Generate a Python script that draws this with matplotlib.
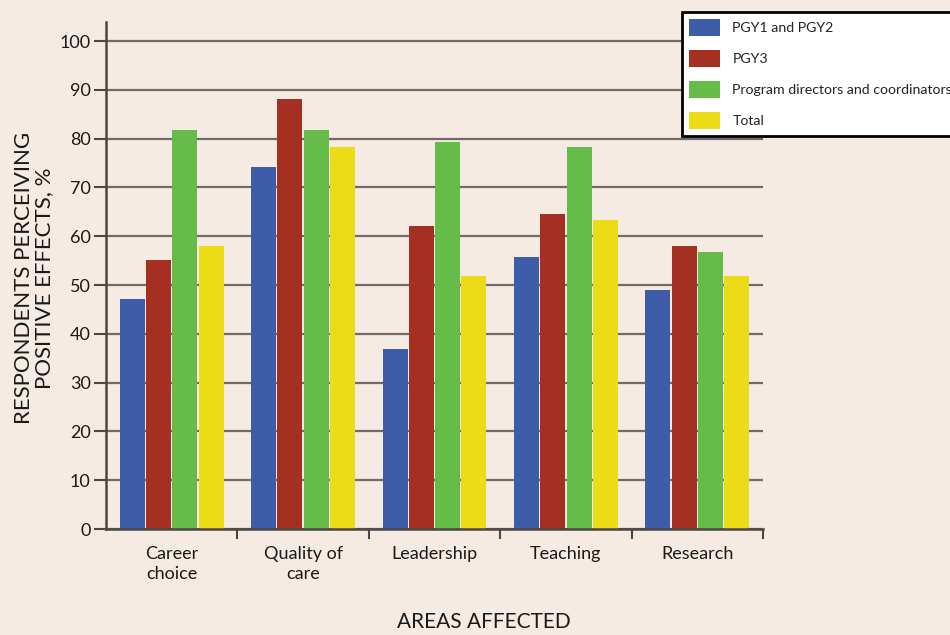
import numpy as np
import matplotlib
matplotlib.use('Agg')
import matplotlib.pyplot as plt
from matplotlib.patches import Rectangle
from matplotlib.legend_handler import HandlerPatch

# Data
areas = ['Career\nchoice', 'Quality of\ncare', 'Leadership', 'Teaching', 'Research']
series_names = ['PGY1 and PGY2', 'PGY3', 'Program directors and coordinators', 'Total']
pgy12 = [47.1, 74.2, 36.9, 55.7, 49.0]
pgy3 = [55.1, 88.1, 62.1, 64.5, 58.0]
directors = [81.8, 81.8, 79.3, 78.3, 56.8]
total = [58.0, 78.3, 51.8, 63.3, 51.8]
yticks = [0, 10, 20, 30, 40, 50, 60, 70, 80, 90, 100]

colors = ['#3d5da8', '#a52f20', '#65bc48', '#ebdc17']
bg = '#f5ebe3'
grid_col = '#6f6b68'

plt.rcParams['font.family'] = ['Lato', 'DejaVu Sans']


# square legend swatch pushed to the right end of the handle box
def square_patch(legend, orig_handle, xdescent, ydescent, width, height, fontsize):
    h = height + ydescent
    return Rectangle((-xdescent + width - h, -ydescent), h, h)


fig = plt.figure(figsize=(9.5, 6.35), dpi=100, facecolor=bg)
ax = fig.add_axes([106/950, 106/635, 657/950, (529-21.5)/635])
ax.set_facecolor(bg)

x = np.arange(len(areas))
offsets = [-0.3, -0.1, 0.1, 0.3]
bars = []
for vals, off, col, name in zip([pgy12, pgy3, directors, total], offsets, colors, series_names):
    bars.append(ax.bar(x + off, vals, width=0.19, color=col, label=name, zorder=3))

ax.set_xlim(-0.5, 4.5)
ax.set_ylim(0, 104)

# Grid lines
ax.set_yticks(yticks)
ax.yaxis.grid(True, color=grid_col, linewidth=1.6, zorder=1)
ax.set_axisbelow(True)

# Category dividers as ticks, labels on minor ticks
ax.set_xticks(np.arange(0.5, 5, 1))
ax.set_xticklabels([])
ax.set_xticks(x, minor=True)
ax.set_xticklabels(areas, minor=True, fontsize=13, color='#1a1a1a', linespacing=1.3)
ax.tick_params(axis='x', which='major', direction='out', length=7, width=1.5, color='#4a4745')
ax.tick_params(axis='x', which='minor', length=0, pad=12)
ax.tick_params(axis='y', direction='out', length=9, width=1.5, color='#4a4745',
               labelsize=13, labelcolor='#1a1a1a', pad=2)

for s in ['top', 'right']:
    ax.spines[s].set_visible(False)
for s in ['left', 'bottom']:
    ax.spines[s].set_color('#4a4745')
    ax.spines[s].set_linewidth(1.8)
ax.spines['bottom'].set_zorder(4)

fig.text(34/950, 1 - 278/635, 'RESPONDENTS PERCEIVING\nPOSITIVE EFFECTS, %',
         rotation=90, ha='center', va='center', fontsize=16, color='#1a1a1a',
         linespacing=1.05)
fig.text(484/950, 1 - 622/635, 'AREAS AFFECTED', ha='center', va='center',
         fontsize=15, color='#1a1a1a')

leg = ax.legend(loc='upper left', bbox_to_anchor=(682/950, 1 - 12/635),
                bbox_transform=fig.transFigure, fontsize=10.2, frameon=True,
                fancybox=False, handlelength=2.2, handleheight=1.48,
                handletextpad=0.85, labelspacing=0.98, borderpad=0.5,
                borderaxespad=0,
                handler_map={type(bars[0].patches[0]): HandlerPatch(patch_func=square_patch)})
leg.get_frame().set_edgecolor('black')
leg.get_frame().set_linewidth(2)
leg.get_frame().set_facecolor('white')
leg.get_frame().set_alpha(1)
for t in leg.get_texts():
    t.set_color('#222222')

fig.savefig('out.png', dpi=100, facecolor=bg)
